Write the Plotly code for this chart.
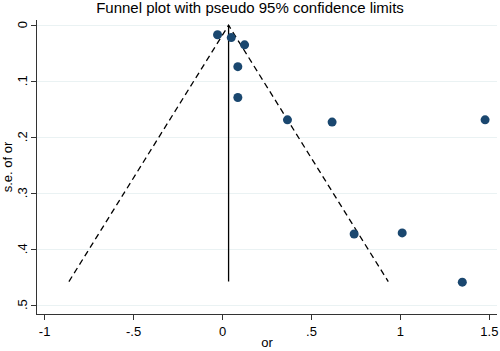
import plotly.graph_objects as go

# Study data
odds_ratio = [-0.028, 0.049, 0.124, 0.086, 0.086, 0.365, 0.616, 1.476, 0.740, 1.010, 1.348]
se_or = [0.017, 0.022, 0.035, 0.074, 0.129, 0.169, 0.173, 0.169, 0.373, 0.371, 0.459]

pooled = 0.034
se_max = 0.458
z = 1.96

x_tickvals = [-1, -0.5, 0, 0.5, 1, 1.5]
x_ticktext = ["-1", "-.5", "0", ".5", "1", "1.5"]
y_tickvals = [0, 0.1, 0.2, 0.3, 0.4, 0.5]
y_ticktext = ["0", ".1", ".2", ".3", ".4", ".5"]

font_family = "Liberation Sans, Arial, sans-serif"
navy = "#1a476f"

fig = go.Figure()

# pseudo 95% confidence limits
fig.add_trace(go.Scatter(
    x=[pooled - z * se_max, pooled, pooled + z * se_max],
    y=[se_max, 0, se_max],
    mode="lines",
    line=dict(color="black", width=1.3, dash="6px,4px"),
    hoverinfo="skip", showlegend=False,
))
# pooled estimate line
fig.add_trace(go.Scatter(
    x=[pooled, pooled], y=[0, se_max],
    mode="lines",
    line=dict(color="black", width=1.3),
    hoverinfo="skip", showlegend=False,
))
# studies
fig.add_trace(go.Scatter(
    x=odds_ratio, y=se_or,
    mode="markers",
    marker=dict(color=navy, size=9),
    showlegend=False,
))

# rotated y tick labels (Stata style)
for v, t in zip(y_tickvals, y_ticktext):
    fig.add_annotation(
        x=0, xref="paper", y=v, yref="y",
        text=t, textangle=-90, showarrow=False,
        xanchor="center", yanchor="middle", xshift=-15,
        font=dict(size=13, color="black"),
    )

fig.update_layout(
    width=500, height=351,
    margin=dict(l=37, r=3, t=20, b=37, autoexpand=False),
    paper_bgcolor="white", plot_bgcolor="white",
    font=dict(family=font_family, color="black", size=12),
    title=dict(text="Funnel plot with pseudo 95% confidence limits",
               x=0.5, xanchor="center", y=0.977, yanchor="middle",
               automargin=False,
               font=dict(size=15, color="black")),
)

fig.update_xaxes(
    range=[-1.043, 1.543],
    tickvals=x_tickvals, ticktext=x_ticktext,
    automargin=False,
    showgrid=False, zeroline=False,
    showline=True, linecolor="#333333", linewidth=1,
    ticks="outside", ticklen=5, tickcolor="#333333",
    tickfont=dict(size=13),
    title=dict(text="or", font=dict(size=13), standoff=0),
)
fig.update_yaxes(
    range=[0.5159, -0.0094],
    tickvals=y_tickvals,
    showticklabels=False,
    automargin=False,
    showgrid=True, gridcolor="#eaf2f3", gridwidth=1,
    zeroline=False,
    showline=True, linecolor="#333333", linewidth=1,
    ticks="outside", ticklen=5, tickcolor="#333333",
    title=dict(text="s.e. of or", font=dict(size=13), standoff=17),
)

fig.write_html("out.html",
               config={"displayModeBar": False},
               post_script="document.body.style.margin='0';document.body.style.overflow='hidden';")
